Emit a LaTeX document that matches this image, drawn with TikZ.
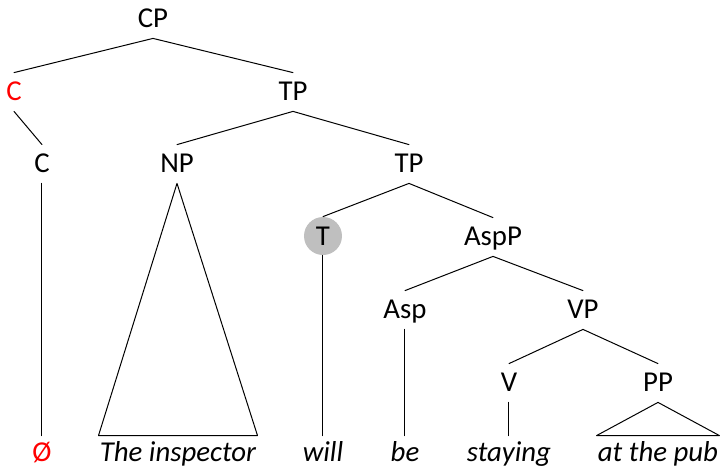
\documentclass[tikz,border=0pt]{standalone}
\usepackage{fontspec}
\setmainfont{Carlito}
\newcommand\treefont{\fontsize{14.4}{17}\selectfont}

\begin{document}
\begin{tikzpicture}[x=0.5pt, y=-0.5pt, line cap=round,
  cat/.style={font=\treefont, anchor=base, text height=9pt, text depth=1pt,
    inner xsep=1pt, inner ysep=4.5pt},
  word/.style={font=\treefont\itshape, anchor=base, text height=9pt, text depth=1pt,
    inner xsep=0.5pt, inner ysep=3.5pt},
  branch/.style={black, line width=0.5pt}]
  \useasboundingbox (0,0) rectangle (720,467);
  % category labels, one row per level
  \node[cat] (CP) at (153,27) {CP};
  \node[cat, red] (Cbar) at (14,100) {C};
  \node[cat] (TP) at (293,100) {TP};
  \node[cat] (C) at (42,172) {C};
  \node[cat] (NP) at (177,172) {NP};
  \node[cat] (TPlow) at (409,172) {TP};
  \node[circle, fill=black!25, minimum size=19pt, inner sep=0pt, font=\treefont,
    text height=9pt, text depth=0pt, anchor=base] (T) at (323,245) {T};
  \node[cat] (AspP) at (493,245) {AspP};
  \node[cat] (Asp) at (405,318) {Asp};
  \node[cat] (VP) at (583,318) {VP};
  \node[cat] (V) at (509,391) {V};
  \node[cat] (PP) at (658,391) {PP};
  % terminal words
  \node[word, red, font=\treefont] (null) at (42,461) {Ø};
  \node[word] (inspector) at (178,461) {The inspector};
  \node[word] (will) at (323,461) {will};
  \node[word] (be) at (405,461) {be};
  \node[word] (staying) at (509,461) {staying};
  \node[word] (pub) at (658,461) {at the pub};
  % branches
  \draw[branch] (CP.south) -- (Cbar.north);
  \draw[branch] (CP.south) -- (TP.north);
  \draw[branch] (Cbar.south) -- (C.north);
  \draw[branch] (TP.south) -- (NP.north);
  \draw[branch] (TP.south) -- (TPlow.north);
  \draw[branch] (TPlow.south) -- (T.north);
  \draw[branch] (TPlow.south) -- (AspP.north);
  \draw[branch] (AspP.south) -- (Asp.north);
  \draw[branch] (AspP.south) -- (VP.north);
  \draw[branch] (VP.south) -- (V.north);
  \draw[branch] (VP.south) -- (PP.north);
  % lines down to the words
  \draw[branch] (C.south) -- (null.north);
  \draw[branch] (T.south) -- (will.north);
  \draw[branch] (Asp.south) -- (be.north);
  \draw[branch] (V.south) -- (staying.north);
  % triangles over phrases
  \draw[branch, line join=round] (NP.south) -- (inspector.north west) -- (inspector.north east) -- cycle;
  \draw[branch, line join=round] (PP.south) -- (pub.north west) -- (pub.north east) -- cycle;
\end{tikzpicture}
\end{document}
